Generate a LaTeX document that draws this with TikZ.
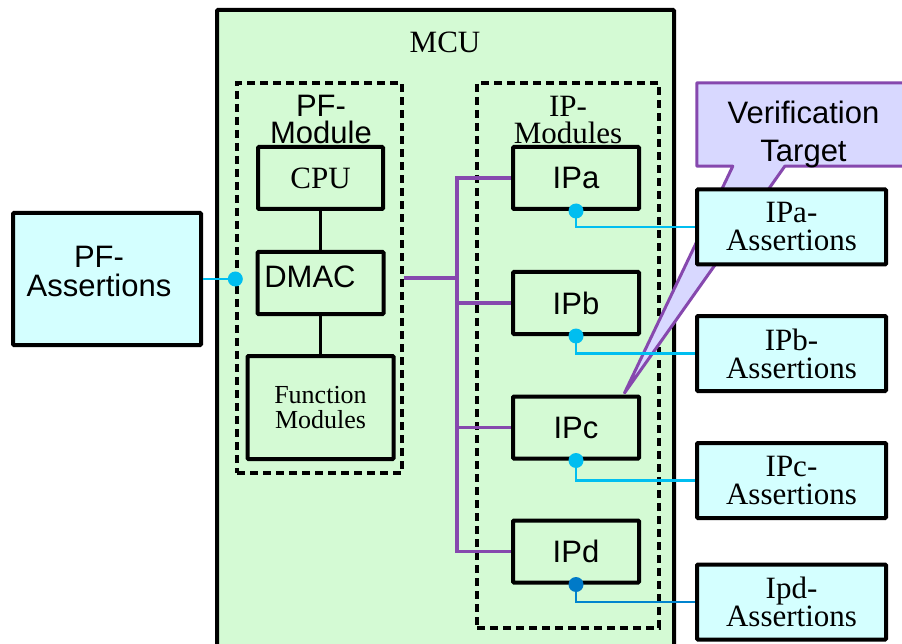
\documentclass[tikz,border=0pt]{standalone}
\usepackage{fontspec}
\setmainfont{Liberation Serif}
\setsansfont{Liberation Sans}
\usetikzlibrary{positioning}
\definecolor{mcugreen}{RGB}{212,250,212}
\definecolor{asrtcyan}{RGB}{212,255,255}
\definecolor{vtlav}{RGB}{216,216,255}
\definecolor{buspurple}{RGB}{134,72,174}
\definecolor{linkcyan}{RGB}{0,190,240}
\definecolor{linkblue}{RGB}{0,122,200}
\newcommand{\bigsans}{\sffamily\fontsize{31pt}{29pt}\selectfont}
\newcommand{\modsans}{\sffamily\fontsize{31pt}{27pt}\selectfont}
\newcommand{\bigserif}{\rmfamily\fontsize{31pt}{28pt}\selectfont}
\newcommand{\modserif}{\rmfamily\fontsize{31pt}{27pt}\selectfont}
\newcommand{\smallserif}{\rmfamily\fontsize{26pt}{25pt}\selectfont}
\newcommand{\vtsans}{\sffamily\fontsize{31pt}{38pt}\selectfont}

\begin{document}
\begin{tikzpicture}[x=1pt, y=-1pt,
  blk/.style={draw, shape=rectangle, line width=4pt, fill=mcugreen, rounded corners=1pt},
  ipblk/.style={blk, minimum width=126pt, minimum height=62pt, font=\bigsans},
  asrt/.style={draw, shape=rectangle, line width=4pt, fill=asrtcyan, rounded corners=1pt, minimum width=189pt, minimum height=75pt, align=center, font=\bigserif},
  grp/.style={draw, shape=rectangle, line width=3.4pt, dash pattern=on 8pt off 5pt},
  bus/.style={draw=buspurple, line width=3.4pt},
  lnk/.style={draw=linkcyan, line width=2.6pt},
  vtcall/.style={draw=buspurple, fill=vtlav, line width=3pt, line join=round}]
\useasboundingbox (0,0) rectangle (902,644);
\node[blk, minimum width=457pt, minimum height=700pt] (mcu) at (445.5,360) {};
\node[font=\bigserif, anchor=base] (mcun) at (445,53) {MCU};
\node[grp, minimum width=165pt, minimum height=390pt] (pfm) at (319.5,278) {};
\node[font=\modsans, align=center, anchor=north, inner sep=0pt, yshift=-14pt] at ([xshift=1.5pt]pfm.north) {PF-\\Module};
\node[grp, minimum width=182pt, minimum height=545pt] (ipm) at (568,355.5) {};
\node[font=\modserif, align=center, anchor=north, inner sep=0pt, yshift=-15pt] at (ipm.north) {IP-\\Modules};
\node[blk, minimum width=125pt, minimum height=62pt, font=\bigserif] (cpu) at (320.5,178) {CPU};
\node[blk, minimum width=126pt, minimum height=62pt, below of=cpu, node distance=105pt] (dmac) {};
\node[font=\bigsans, xshift=-10.5pt, yshift=6pt] at (dmac.center) {DMAC};
\node[blk, minimum width=146pt, minimum height=103pt, font=\smallserif, align=center, below of=dmac, node distance=124.5pt] (fm) {Function\\Modules};
\node[ipblk] (ipa) at (576,178) {IPa};
\node[ipblk, below of=ipa, node distance=125pt] (ipb) {IPb};
\node[ipblk, below of=ipb, node distance=124.5pt] (ipc) {IPc};
\node[ipblk, below of=ipc, node distance=124pt] (ipd) {IPd};
\node[asrt, minimum width=188pt, minimum height=132pt] (pfa) at (107,279) {};
\node[font=\bigsans, align=center, xshift=-8pt, yshift=7.5pt] at (pfa.center) {PF-\\Assertions};
\draw[line width=3.6pt] (cpu.south) -- (dmac.north);
\draw[line width=3.6pt] (dmac.south) -- (fm.north);
% bus from the PF side to the IPs
\coordinate (bj) at (457,278);
\draw[bus] (pfm.east |- bj) -- (bj);
\foreach \ip in {ipa,ipb,ipc,ipd}
  \draw[bus] (bj) |- (\ip.west);
% callout
\node[minimum width=208pt, minimum height=83pt] (vt) at (801,124.5) {};
\coordinate (vttip) at ([xshift=48.5pt, yshift=1.5pt]ipc.north);
\draw[vtcall] (vt.north west) -- (vt.north east) -- (vt.south east) -- ([xshift=88pt]vt.south west) -- (vttip) -- ([xshift=36pt]vt.south west) -- (vt.south west) -- cycle;
\node[font=\vtsans, align=center, xshift=2.5pt, yshift=-9.5pt] at (vt.center) {Verification\\Target};
\node[asrt] (ipaa) at (791.5,227) {IPa-\\Assertions};
\node[asrt] (ipba) at (791.5,353.5) {IPb-\\Assertions};
\node[asrt] (ipca) at (791.5,480.5) {IPc-\\Assertions};
\node[asrt] (ipda) at (791.5,602) {Ipd-\\Assertions};
\draw[lnk] (pfa.east) -- (pfa.east -| pfm.west);
\fill[linkcyan] (pfa.east -| pfm.west) circle (7.5pt);
\foreach \ip/\as in {ipa/ipaa, ipb/ipba, ipc/ipca} {
  \draw[lnk] (\ip.south) |- (\as.west);
  \fill[linkcyan] (\ip.south) circle (7.5pt);
}
\draw[lnk, draw=linkblue!85!linkcyan] (ipd.south) |- (ipda.west);
\fill[linkblue] (ipd.south) circle (7.5pt);
\end{tikzpicture}
\end{document}
